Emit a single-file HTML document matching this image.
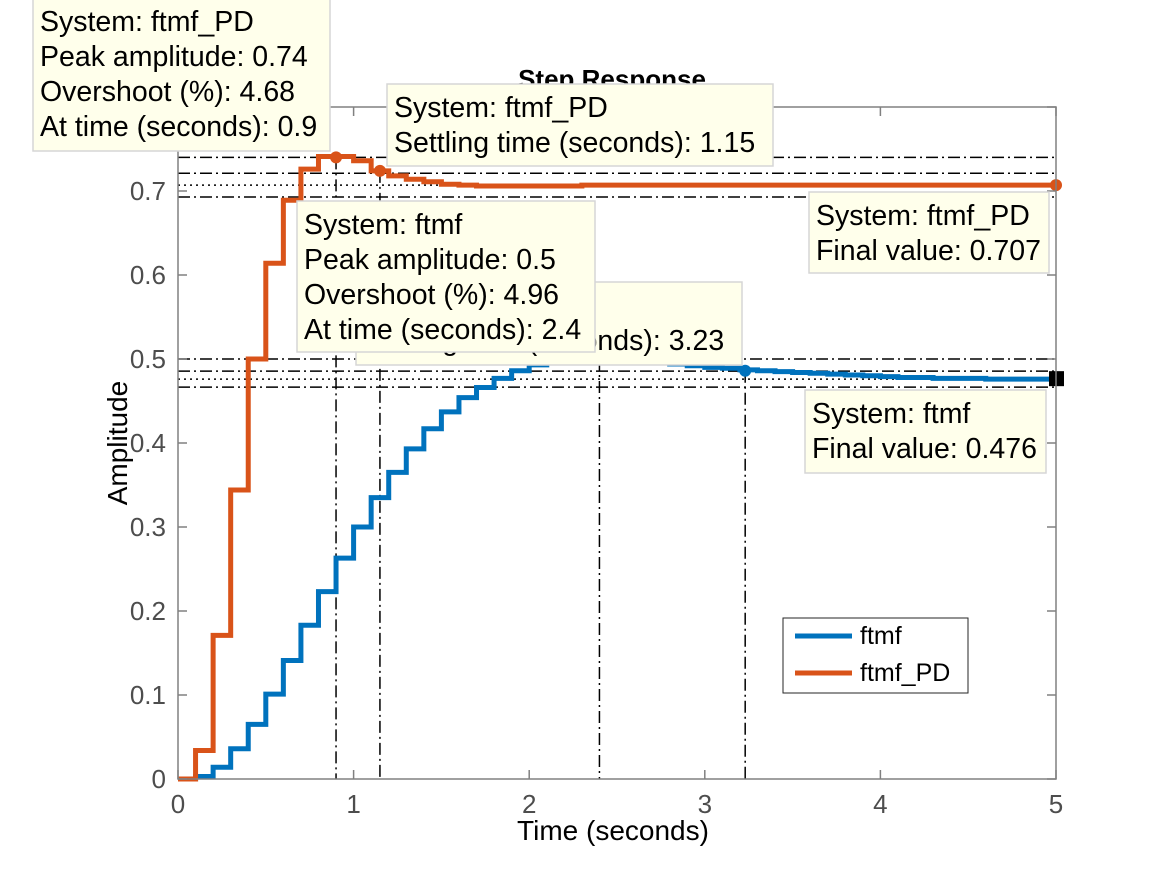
<!DOCTYPE html>
<html><head><meta charset="utf-8"><style>
html,body{margin:0;padding:0;background:#fff;}
svg{display:block;font-family:"Liberation Sans",Arial,sans-serif;}
</style></head><body>
<svg id="chart" width="1167" height="875" viewBox="0 0 1167 875" xmlns="http://www.w3.org/2000/svg">
<rect x="0" y="0" width="1167" height="875" fill="#fff"/>
<g id="grid"></g>
<g id="series"></g>
<g id="axes"></g>
<g id="tips"></g>
</svg>
<script>
const times = [];
for (let i = 0; i <= 50; i++) times.push(i / 10);
const ftmf = [0,0.003,0.014,0.036,0.065,0.101,0.141,0.183,0.223,0.263,0.300,0.335,0.365,0.393,0.417,0.437,0.454,0.466,0.477,0.486,0.493,0.497,0.499,0.500,0.500,0.499,0.498,0.496,0.494,0.492,0.490,0.489,0.487,0.486,0.485,0.484,0.483,0.482,0.481,0.480,0.479,0.478,0.478,0.477,0.477,0.477,0.476,0.476,0.476,0.476,0.476];
const ftmfPD = [0,0.034,0.171,0.344,0.500,0.614,0.689,0.726,0.741,0.741,0.736,0.724,0.718,0.714,0.711,0.708,0.707,0.706,0.706,0.706,0.706,0.706,0.706,0.707,0.707,0.707,0.707,0.707,0.707,0.707,0.707,0.707,0.707,0.707,0.707,0.707,0.707,0.707,0.707,0.707,0.707,0.707,0.707,0.707,0.707,0.707,0.707,0.707,0.707,0.707,0.707];
const xTicks = [0,1,2,3,4,5];
const yTicks = [0,0.1,0.2,0.3,0.4,0.5,0.6,0.7,0.8];
const yTickLabels = ["0","0.1","0.2","0.3","0.4","0.5","0.6","0.7",""];
const pdPeak = [0.9, 0.74];
const pdSettle = [1.15, 0.724];
const pdFinal = 0.707;
const fPeak = [2.4, 0.5];
const fSettle = [3.23, 0.486];
const fFinal = 0.476;

const NS = "http://www.w3.org/2000/svg";
const X0 = 178, X1 = 1056, Y0 = 779, Y1 = 107;
const xs = t => X0 + t / 5 * (X1 - X0);
const ys = v => Y0 - v / 0.8 * (Y0 - Y1);
function mk(tag, attrs, parent) {
  const e = document.createElementNS(NS, tag);
  for (const k in attrs) e.setAttribute(k, attrs[k]);
  parent.appendChild(e);
  return e;
}
const grid = document.getElementById('grid');
const series = document.getElementById('series');
const axes = document.getElementById('axes');
const DD = "12,4,2,4", DOT = "2,4";

function hline(v, dash, name) {
  const l = mk('line', {x1: X0, x2: X1, y1: ys(v), y2: ys(v), stroke: '#000', 'stroke-width': 1.5, 'stroke-dasharray': dash}, grid);
  
  
}
function vline(t, v, name) {
  const l = mk('line', {x1: xs(t), x2: xs(t), y1: ys(v), y2: Y0, stroke: '#000', 'stroke-width': 1.5, 'stroke-dasharray': DD}, grid);
  
  
}
hline(pdPeak[1], DD, 'pd-peak-line');
hline(pdFinal * 1.02, DD, 'pd-upper-settle-line');
hline(pdFinal, DOT, 'pd-final-line');
hline(pdFinal * 0.98, DD, 'pd-lower-settle-line');
hline(fPeak[1], DD, 'ftmf-peak-line');
hline(fFinal * 1.02, DD, 'ftmf-upper-settle-line');
hline(fFinal, DOT, 'ftmf-final-line');
hline(fFinal * 0.98, DD, 'ftmf-lower-settle-line');
vline(pdPeak[0], pdPeak[1], 'pd-peak-time-line');
vline(pdSettle[0], pdSettle[1], 'pd-settle-time-line');
vline(fPeak[0], fPeak[1], 'ftmf-peak-time-line');
vline(fSettle[0], fSettle[1], 'ftmf-settle-time-line');

function stairs(vals) {
  let d = 'M' + xs(times[0]) + ',' + ys(vals[0]);
  for (let i = 0; i < vals.length - 1; i++) {
    d += ' L' + xs(times[i + 1]) + ',' + ys(vals[i]) + ' L' + xs(times[i + 1]) + ',' + ys(vals[i + 1]);
  }
  return d;
}
const pb = mk('path', {d: stairs(ftmf), fill: 'none', stroke: '#0072BD', 'stroke-width': 5, 'stroke-linejoin': 'miter'}, series);


const po = mk('path', {d: stairs(ftmfPD), fill: 'none', stroke: '#D95319', 'stroke-width': 5, 'stroke-linejoin': 'miter'}, series);



function dot(t, v, color, name, r) {
  const c = mk('circle', {cx: xs(t), cy: ys(v), r: r || 6, fill: color}, series);
  
  
}
dot(pdPeak[0], pdPeak[1], '#D95319', 'pd-peak-marker');
dot(pdSettle[0], pdSettle[1], '#D95319', 'pd-settle-marker');
dot(5, pdFinal, '#D95319', 'pd-final-marker');
dot(fPeak[0], fPeak[1], '#8fc1e0', 'ftmf-peak-marker');
dot(fSettle[0], fSettle[1], '#0072BD', 'ftmf-settle-marker');
const sq = mk('rect', {x: xs(5) - 7, y: ys(fFinal) - 8, width: 15, height: 15, fill: '#000'}, series);



const box = mk('rect', {x: X0, y: Y1, width: X1 - X0, height: Y0 - Y1, fill: 'none', stroke: '#808080', 'stroke-width': 1.5}, axes);


xTicks.forEach(t => {
  mk('line', {x1: xs(t), x2: xs(t), y1: Y0, y2: Y0 - 9, stroke: '#808080', 'stroke-width': 1.5}, axes);
  mk('line', {x1: xs(t), x2: xs(t), y1: Y1, y2: Y1 + 9, stroke: '#808080', 'stroke-width': 1.5}, axes);
  const tx = mk('text', {x: xs(t), y: 813, 'text-anchor': 'middle', 'font-size': 26, fill: '#4d4d4d'}, axes);
  tx.textContent = String(t);
  
  
});
yTicks.forEach((v, i) => {
  mk('line', {x1: X0, x2: X0 + 9, y1: ys(v), y2: ys(v), stroke: '#808080', 'stroke-width': 1.5}, axes);
  mk('line', {x1: X1, x2: X1 - 9, y1: ys(v), y2: ys(v), stroke: '#808080', 'stroke-width': 1.5}, axes);
  const tx = mk('text', {x: 166, y: ys(v) + 9, 'text-anchor': 'end', 'font-size': 26, fill: '#4d4d4d'}, axes);
  tx.textContent = yTickLabels[i];
  
  
});
</script>
<script>
(function(){
const NS = "http://www.w3.org/2000/svg";
const axes = document.getElementById('axes');
const tips = document.getElementById('tips');
function t(x, y, str, attrs, parent, name) {
  const e = document.createElementNS(NS, 'text');
  e.setAttribute('x', x); e.setAttribute('y', y);
  for (const k in attrs) e.setAttribute(k, attrs[k]);
  e.textContent = str;
  
  
  parent.appendChild(e);
  return e;
}
t(612, 88, 'Step Response', {'text-anchor': 'middle', 'font-size': 26, 'font-weight': 'bold', fill: '#000'}, axes, 'chart-title');
t(613, 840, 'Time (seconds)', {'text-anchor': 'middle', 'font-size': 28, fill: '#000'}, axes, 'x-axis-title');
t(127, 443, 'Amplitude', {'text-anchor': 'middle', 'font-size': 28, fill: '#000', transform: 'rotate(-90 127 443)'}, axes, 'y-axis-title');

const lg = document.createElementNS(NS, 'g');


axes.appendChild(lg);
const lr = document.createElementNS(NS, 'rect');
lr.setAttribute('x', 783); lr.setAttribute('y', 618); lr.setAttribute('width', 185); lr.setAttribute('height', 75);
lr.setAttribute('fill', '#fff'); lr.setAttribute('stroke', '#262626'); lr.setAttribute('stroke-width', 1);


lg.appendChild(lr);
[['#0072BD', 636, 'ftmf'], ['#D95319', 673, 'ftmf_PD']].forEach(([c, y, s]) => {
  const l = document.createElementNS(NS, 'line');
  l.setAttribute('x1', 795); l.setAttribute('x2', 852); l.setAttribute('y1', y); l.setAttribute('y2', y);
  l.setAttribute('stroke', c); l.setAttribute('stroke-width', 5);
  
  
  lg.appendChild(l);
  t(860, y + 8, s, {'font-size': 25, fill: '#000'}, lg, 'legend-entry');
});

function tip(x, y, w, h, lines, name) {
  const g = document.createElementNS(NS, 'g');
  
  
  tips.appendChild(g);
  const r = document.createElementNS(NS, 'rect');
  r.setAttribute('x', x); r.setAttribute('y', y); r.setAttribute('width', w); r.setAttribute('height', h);
  r.setAttribute('fill', '#ffffeb'); r.setAttribute('stroke', '#d6d6d6'); r.setAttribute('stroke-width', 1.5);
  
  
  g.appendChild(r);
  lines.forEach((s, i) => t(x + 7, y + 33 + i * 35, s, {'font-size': 28.5, fill: '#000'}, g, 'datatip-text'));
}
tip(356, 282, 386, 83, ['System: ftmf', 'Settling time (seconds): 3.23'], 'ftmf-settle-datatip');
tip(297, 201, 298, 151, ['System: ftmf', 'Peak amplitude: 0.5', 'Overshoot (%): 4.96', 'At time (seconds): 2.4'], 'ftmf-peak-datatip');
tip(33, -2, 297, 153, ['System: ftmf_PD', 'Peak amplitude: 0.74', 'Overshoot (%): 4.68', 'At time (seconds): 0.9'], 'pd-peak-datatip');
tip(387, 84, 386, 82, ['System: ftmf_PD', 'Settling time (seconds): 1.15'], 'pd-settle-datatip');
tip(809, 192, 240, 81, ['System: ftmf_PD', 'Final value: 0.707'], 'pd-final-datatip');
tip(805, 390, 241, 83, ['System: ftmf', 'Final value: 0.476'], 'ftmf-final-datatip');
})();
</script>
</body></html>
